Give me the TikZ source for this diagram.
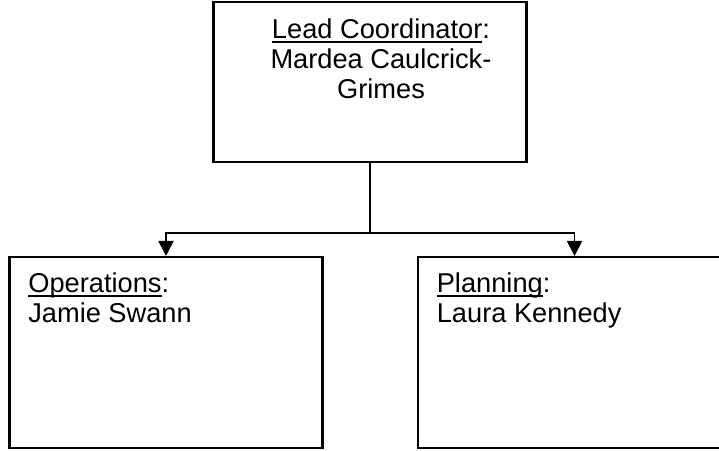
\documentclass[tikz,border=0pt]{standalone}
\usepackage{fontspec}
\setmainfont{Liberation Sans}
\usetikzlibrary{positioning,arrows.meta}
% underline that cuts through descenders, as in the source
\newcommand\undl[1]{\sbox0{#1}\rlap{\rule[-0.165em]{\wd0}{0.07em}}\usebox0}
\begin{document}
\begin{tikzpicture}[x=0.02cm,y=-0.02cm,
  orgbox/.style={rectangle, draw=black, fill=none, line width=1.2pt, minimum width=6.26cm, minimum height=3.82cm, inner sep=0pt},
  orgtext/.style={inner sep=0pt, font=\fontsize{15.5}{17.3}\selectfont},
  link/.style={line width=1.1pt},
  arr/.style={link, -{Triangle[width=0.3cm,length=0.3cm]}}]
\path[use as bounding box, clip] (0,0) rectangle (719,450);
% boxes
\node [orgbox, minimum height=3.2cm] (lead) at (370,82) {};
\node [orgbox] (ops) at (166,352.5) {};
\node [orgbox] (plan) at (574.5,352.5) {};
% texts
\node [orgtext, anchor=north, align=center] (leadText) at ([xshift=0.22cm,yshift=-0.34cm]lead.north) {\undl{Lead Coordinator}:\\Mardea Caulcrick-\\Grimes};
\node [orgtext, align=left, below right=0.32cm and 0.39cm of ops.north west] (opsText) {\undl{Operations}:\\Jamie Swann};
\node [orgtext, align=left, below right=0.32cm and 0.39cm of plan.north west] (planText) {\undl{Planning}:\\Laura Kennedy};
% connectors
\coordinate (split) at (370,233);
\draw [link] (lead.south) -- (split);
\draw [arr] (split) -| (ops.north);
\draw [arr] (split) -| (plan.north);
\end{tikzpicture}
\end{document}
